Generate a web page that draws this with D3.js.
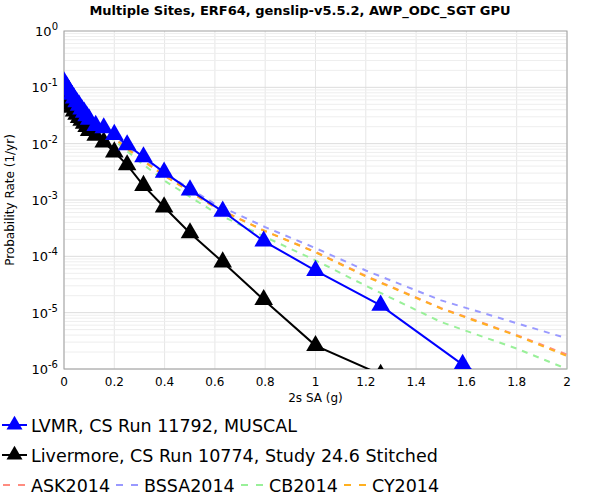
<!DOCTYPE html>
<html><head><meta charset="utf-8">
<script src="https://cdn.jsdelivr.net/npm/d3@7"></script>
<style>body{margin:0;background:#fff;font-family:"DejaVu Sans",sans-serif}</style>
</head><body><svg id="c" width="600" height="500"></svg>
<script>
// CyberShake curves
const csX = [0.0001, 0.01, 0.02, 0.03, 0.04, 0.05, 0.06, 0.07, 0.08, 0.09, 0.1, 0.126, 0.158, 0.2, 0.251, 0.316, 0.398, 0.501, 0.631, 0.794, 1.0, 1.259, 1.585, 1.995];
const lvmr = [0.125, 0.105, 0.088, 0.075, 0.064, 0.055, 0.048, 0.041, 0.036, 0.031, 0.027, 0.021, 0.019, 0.0145, 0.0095, 0.0058, 0.0031, 0.0015, 0.00063, 0.000186, 0.000056, 0.0000135, 0.0000012, 0.0000001];
const livermore = [0.065, 0.057, 0.05, 0.044, 0.038, 0.033, 0.029, 0.026, 0.023, 0.02, 0.017, 0.014, 0.0107, 0.0071, 0.0042, 0.0018, 0.00075, 0.00026, 0.000079, 0.000017, 0.0000026, 0.0000008, 0.0000001, 0.00000001];
// GMPE curves
const gX = [0.005, 0.05, 0.1, 0.2, 0.3, 0.4, 0.6, 0.8, 1.0, 1.2, 1.5, 1.8, 2.0];
const ask = [0.075, 0.04, 0.025, 0.0125, 0.0055, 0.0027, 0.00075, 0.00028, 0.00012, 0.000045, 0.000012, 0.000004, 0.0000018];
const bssa = [0.075, 0.04, 0.025, 0.013, 0.006, 0.003, 0.00085, 0.00033, 0.00014, 0.000056, 0.0000165, 0.0000065, 0.0000035];
const cb = [0.07, 0.037, 0.023, 0.0115, 0.0048, 0.0022, 0.0006, 0.00022, 0.000085, 0.00003, 0.0000068, 0.0000023, 0.000001];
const cy = [0.075, 0.04, 0.025, 0.0125, 0.0055, 0.0027, 0.00074, 0.00028, 0.000118, 0.000044, 0.0000118, 0.0000039, 0.0000017];
const xTicks = [0, 0.2, 0.4, 0.6, 0.8, 1, 1.2, 1.4, 1.6, 1.8, 2];

const svg = d3.select("#c");
const L = 64, R = 567, T = 31, B = 369;
const x = d3.scaleLinear().domain([0, 2]).range([L, R]);
const y = d3.scaleLog().domain([1e-6, 1]).range([B, T]);

svg.append("defs").append("clipPath").attr("id", "clip")
  .append("rect").attr("x", L).attr("y", T).attr("width", R - L).attr("height", B - T);

// grid
const g = svg.append("g").attr("stroke", "#e6e6e6").attr("stroke-width", 1);
xTicks.forEach(v => g.append("line").attr("x1", x(v)).attr("x2", x(v)).attr("y1", T).attr("y2", B));
for (let e = -6; e < 0; e++) for (let m = 1; m < 10; m++) {
  const v = m * Math.pow(10, e);
  g.append("line").attr("x1", L).attr("x2", R).attr("y1", y(v)).attr("y2", y(v))
    .attr("stroke", m === 1 ? "#dcdcdc" : "#eeeeee");
}

svg.append("rect").attr("x", L).attr("y", T).attr("width", R - L).attr("height", B - T)
  .attr("fill", "none").attr("stroke", "#a0a0a0");

const line = d3.line().x(d => x(d[0])).y(d => y(d[1]));
const plot = svg.append("g").attr("clip-path", "url(#clip)");

const gmpes = [
  {name: "ASK2014", c: "#ff8c80", v: ask},
  {name: "BSSA2014", c: "#9999ff", v: bssa},
  {name: "CB2014", c: "#99f099", v: cb},
  {name: "CY2014", c: "#ffb020", v: cy}
];
gmpes.forEach(s => plot.append("path").datum(gX.map((d, i) => [d, s.v[i]]))
  .attr("d", line).attr("fill", "none").attr("stroke", s.c).attr("stroke-width", 2).attr("stroke-dasharray", "6,6"));

const tri = d3.symbol().type(d3.symbolTriangle).size(150);
const cs = [
  {name: "LVMR, CS Run 11792, MUSCAL", c: "#0000ff", v: lvmr},
  {name: "Livermore, CS Run 10774, Study 24.6 Stitched", c: "#000000", v: livermore}
];
cs.slice().reverse().forEach(s => {
  const pts = csX.map((d, i) => [d, s.v[i]]);
  plot.append("path").datum(pts).attr("d", line).attr("fill", "none").attr("stroke", s.c).attr("stroke-width", 2);
  plot.selectAll(null).data(pts).join("path").attr("d", tri)
    .attr("transform", d => `translate(${x(d[0])},${y(d[1])})`).attr("fill", s.c);
});

// axes labels
const xa = svg.append("g").attr("font-size", 12).attr("text-anchor", "middle");
xTicks.forEach(v => xa.append("text").attr("x", x(v)).attr("y", B + 17).text(v));
svg.append("text").attr("x", (L + R) / 2).attr("y", B + 33).attr("text-anchor", "middle").attr("font-size", 12).text("2s SA (g)");
for (let e = -6; e <= 0; e++) {
  const t = svg.append("text").attr("x", L - 6).attr("y", y(Math.pow(10, e)) + 5).attr("text-anchor", "end").attr("font-size", 13);
  t.append("tspan").text("10");
  t.append("tspan").attr("dy", -6).attr("font-size", 10).text(e);
}
svg.append("text").attr("transform", `translate(14,${(T + B) / 2}) rotate(-90)`).attr("text-anchor", "middle")
  .attr("font-size", 12).text("Probability Rate (1/yr)");
svg.append("text").attr("x", 300).attr("y", 15).attr("text-anchor", "middle").attr("font-size", 13)
  .attr("font-weight", "bold").text("Multiple Sites, ERF64, genslip-v5.5.2, AWP_ODC_SGT GPU");

// legend
const legTri = d3.symbol().type(d3.symbolTriangle).size(110);
cs.forEach((s, i) => {
  const ly = 425 + i * 30;
  svg.append("line").attr("x1", 2).attr("x2", 27).attr("y1", ly).attr("y2", ly).attr("stroke", s.c).attr("stroke-width", 2);
  svg.append("path").attr("d", legTri).attr("transform", `translate(14.5,${ly})`).attr("fill", s.c);
  svg.append("text").attr("x", 31).attr("y", ly + 6.5).attr("font-size", 17.5).text(s.name);
});
const lx = [3, 116, 241, 344];
gmpes.forEach((s, i) => {
  const ly = 485;
  svg.append("line").attr("x1", lx[i]).attr("x2", lx[i] + 22).attr("y1", ly).attr("y2", ly)
    .attr("stroke", s.c).attr("stroke-width", 2).attr("stroke-dasharray", "7,8");
  svg.append("text").attr("x", lx[i] + 28).attr("y", ly + 6.5).attr("font-size", 17.5).text(s.name);
});
</script></body></html>
